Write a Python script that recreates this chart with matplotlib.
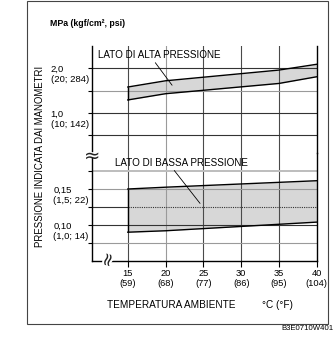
import matplotlib
matplotlib.use("Agg")
import matplotlib.pyplot as plt
from matplotlib.patches import Rectangle
import matplotlib.patheffects as pe
from matplotlib.transforms import blended_transform_factory

# ---------------- data ----------------
temps_c = [15, 20, 25, 30, 35, 40]
temps_f = [59, 68, 77, 86, 95, 104]

high_x = [15, 20, 35, 40]
high_top = [1.58, 1.72, 1.96, 2.09]
high_bot = [1.29, 1.43, 1.66, 1.81]

low_x = [15, 20, 40]
low_top = [0.150, 0.1525, 0.1615]
low_bot = [0.090, 0.092, 0.104]

upper_ticks = [0.5, 1.0, 1.5, 2.0]
lower_ticks = [0.075, 0.10, 0.125, 0.15, 0.175]
upper_labels = {2.0: "2,0\n(20; 284)", 1.0: "1,0\n(10; 142)"}
lower_labels = {0.15: "0,15\n(1,5; 22)", 0.10: "0,10\n(1,0; 14)"}

label_high = "LATO DI ALTA PRESSIONE"
label_low = "LATO DI BASSA PRESSIONE"
ylabel = "PRESSIONE INDICATA DAI MANOMETRI"
xlabel = "TEMPERATURA AMBIENTE"
xunit = "°C (°F)"
unit_title = "MPa (kgf/cm², psi)"
code = "B3E0710W401"

# ---------------- style ----------------
plt.rcParams["font.family"] = ["Liberation Sans", "DejaVu Sans"]
W, H = 335, 345
fig = plt.figure(figsize=(W / 100, H / 100), dpi=100)

def fx(px):
    return px / W

def fy(py):
    return 1 - py / H

L = fx(92.3)
AW = (316.7 - 92.3) / W
ax_up = fig.add_axes([L, fy(153), AW, 107 / H])
ax_lo = fig.add_axes([L, fy(261), AW, 108 / H])

XL = (10.3, 40)
FILL = "#d7d7d7"
DARK = "#333333"
GRAY = "#9a9a9a"
LIGHT = "#bdbdbd"

for ax in (ax_up, ax_lo):
    ax.set_xlim(*XL)
    ax.patch.set_alpha(0)
    ax.spines["top"].set_visible(False)
    for s in ("left", "right", "bottom"):
        ax.spines[s].set_linewidth(1.0)
        ax.spines[s].set_color("black")
    # vertical grid
    for t in temps_c[:-1]:
        ax.axvline(t, color=(GRAY if t == 20 else "#4a4a4a"), lw=0.8, zorder=2)
    ax.tick_params(axis="y", direction="out", length=3, width=0.8,
                   labelleft=False, color="black")

ax_up.set_ylim(0.1, 2.5)
ax_lo.set_ylim(0.05, 0.20)
ax_up.spines["bottom"].set_visible(False)
ax_up.tick_params(axis="x", bottom=False, labelbottom=False)
ax_up.spines["left"].set_bounds(0.145, 2.5)
ax_lo.spines["left"].set_bounds(0.05, 0.193)

ax_up.set_yticks(upper_ticks)
ax_lo.set_yticks(lower_ticks)

up_col = {0.5: DARK, 1.0: DARK, 1.5: GRAY, 2.0: DARK}
lo_col = {0.075: GRAY, 0.10: DARK, 0.125: DARK, 0.15: GRAY, 0.175: LIGHT}
for v in upper_ticks:
    ax_up.axhline(v, color=up_col[v], lw=0.8, zorder=2)
for v in lower_ticks:
    if v == 0.125:
        # solid outside the band, dotted inside
        ax_lo.plot([XL[0], low_x[0]], [v, v], color=DARK, lw=0.8, zorder=2)
        ax_lo.plot([low_x[0], low_x[-1]], [v, v], color=DARK, lw=0.8,
                   ls=(0, (1, 1)), zorder=2)
    else:
        ax_lo.axhline(v, color=lo_col[v], lw=(1.4 if v == 0.175 else 0.8), zorder=2)

# bands
ax_up.fill_between(high_x, high_bot, high_top, color=FILL, lw=0, zorder=1)
ax_up.plot(high_x, high_top, color="black", lw=1.0, zorder=3)
ax_up.plot(high_x, high_bot, color="black", lw=1.0, zorder=3)
ax_up.vlines(high_x[0], high_bot[0], high_top[0], color="black", lw=1.0, zorder=3)

ax_lo.fill_between(low_x, low_bot, low_top, color=FILL, lw=0, zorder=1)
ax_lo.plot(low_x, low_top, color="black", lw=1.0, zorder=3)
ax_lo.plot(low_x, low_bot, color="black", lw=1.0, zorder=3)
ax_lo.vlines(low_x[0], low_bot[0], low_top[0], color="black", lw=1.0, zorder=3)

# x ticks
ax_lo.set_xticks(temps_c)
ax_lo.set_xticklabels([f"{c}\n({f})" for c, f in zip(temps_c, temps_f)],
                      fontsize=6.7, linespacing=1.25)
ax_lo.tick_params(axis="x", direction="out", length=4, width=0.8, pad=1.5)

# y tick labels (two lines)
for ax, labs in ((ax_up, upper_labels), (ax_lo, lower_labels)):
    tr = blended_transform_factory(ax.transAxes, ax.transData)
    for v, s in labs.items():
        ax.annotate(s, xy=(0, v), xycoords=tr, xytext=(-2.5, -4.6),
                    textcoords="offset points", ha="right", va="center",
                    multialignment="left", fontsize=6.8, linespacing=1.2)

# band labels with leader lines
ax_up.annotate(label_high, xy=(20.86, 1.62), xytext=(11.07, 2.30),
               ha="left", va="center", fontsize=7.1,
               arrowprops=dict(arrowstyle="-", lw=0.6, color="black",
                               shrinkA=0, shrinkB=0, relpos=(0.45, 0.0)))
ax_lo.annotate(label_low, xy=(24.56, 0.130), xytext=(13.3, 0.1865),
               ha="left", va="center", fontsize=7.1,
               arrowprops=dict(arrowstyle="-", lw=0.6, color="black",
                               shrinkA=0, shrinkB=0, relpos=(0.43, 0.0)))

# axis-break symbols
fig.text(fx(92.5), fy(156), "≈", family="DejaVu Sans", fontsize=14,
         ha="center", va="center", color="#222222")
fig.text(fx(108.5), fy(260), "≈", family="DejaVu Sans", fontsize=13,
         ha="center", va="center", rotation=75, color="#222222",
         path_effects=[pe.withStroke(linewidth=3, foreground="white")])

# texts
fig.text(fx(40), fy(156), ylabel, rotation=90, ha="center", va="center",
         fontsize=6.9)
fig.text(fx(50), fy(23.5), unit_title, ha="left", va="center",
         fontsize=6.3, fontweight="bold")
fig.text(fx(107), fy(305), xlabel, ha="left", va="center", fontsize=7.2)
fig.text(fx(262), fy(305), xunit, ha="left", va="center", fontsize=7.2)
fig.text(fx(333), fy(328.5), code, ha="right", va="center", fontsize=5.6)

# outer frame
fig.patches.append(Rectangle((fx(27), fy(324)), (328 - 27) / W, (324 - 1) / H,
                             transform=fig.transFigure, fill=False,
                             ec="#444444", lw=0.8))

fig.savefig("out.png", dpi=100, facecolor="white")
